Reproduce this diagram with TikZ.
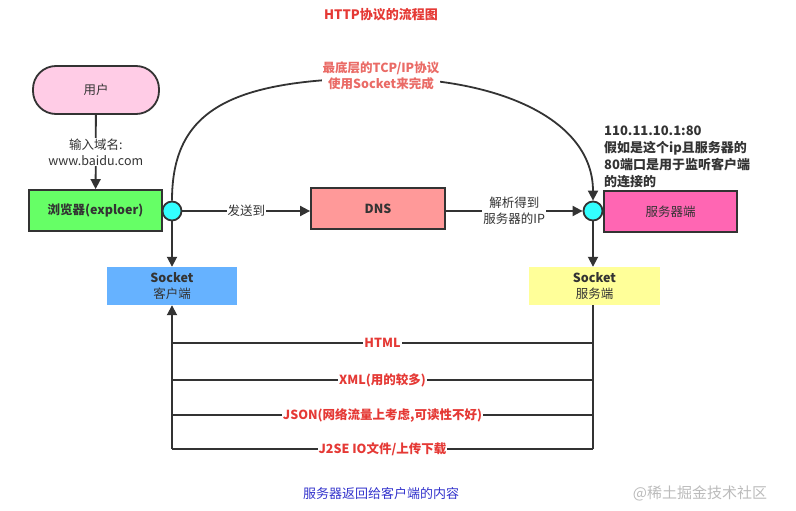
\documentclass[tikz,border=0pt]{standalone}
\usepackage{fontspec}
\setmainfont{Noto Sans CJK SC}
\usetikzlibrary{arrows.meta}
\definecolor{ln}{HTML}{333333}
\definecolor{userpink}{HTML}{FFCCE6}
\definecolor{browsergreen}{HTML}{66FF66}
\definecolor{dnsred}{HTML}{FF9999}
\definecolor{srvpink}{HTML}{FF66B3}
\definecolor{cyanc}{HTML}{33FFFF}
\definecolor{cliblue}{HTML}{66B2FF}
\definecolor{srvyellow}{HTML}{FFFF99}
\definecolor{redtxt}{HTML}{E53935}
\definecolor{pinktxt}{HTML}{EA6B66}
\definecolor{bluetxt}{HTML}{3333CC}
\definecolor{marktxt}{HTML}{BBBBBB}
\begin{document}
\begin{tikzpicture}[x=1pt,y=-1pt,
  every node/.style={font=\fontsize{12.5}{16}\selectfont, text=ln},
  box/.style={draw=ln, line width=1.8pt, inner sep=0pt, align=center},
  flat/.style={inner sep=0pt, align=center},
  dot/.style={circle, draw=ln, line width=1.8pt, fill=cyanc, minimum size=19pt, inner sep=0pt},
  conn/.style={draw=ln, line width=1.8pt},
  arr/.style={conn, -{Triangle[length=10pt,width=10pt]}},
  lbl/.style={fill=white, inner sep=1pt, align=center},
  rlbl/.style={lbl, text=redtxt, font=\fontsize{12.5}{16}\selectfont\bfseries}
]
\useasboundingbox (0,0) rectangle (796,511);

\node[text=redtxt, font=\fontsize{13}{16}\selectfont\bfseries] (title) at (381,15) {HTTP协议的流程图};

\node[box, fill=userpink, rounded corners=23pt, minimum width=126pt, minimum height=48pt] (user) at (96,90) {用户};
\node[box, fill=browsergreen, minimum width=133pt, minimum height=41pt, font=\fontsize{12.5}{16}\selectfont\bfseries] (browser) at (95.5,210.5) {浏览器(exploer)};
\node[box, fill=dnsred, minimum width=134pt, minimum height=41pt, font=\fontsize{12.5}{16}\selectfont\bfseries] (dns) at (378,208.5) {DNS};
\node[box, fill=srvpink, minimum width=133pt, minimum height=41pt] (server) at (670.5,211.5) {服务器端};
\node[dot] (c1) at (172,211) {};
\node[dot] (c2) at (593,211) {};
\node[flat, fill=cliblue, minimum width=130pt, minimum height=38pt] (scli) at (172,286) {\textbf{Socket}\\客户端};
\node[flat, fill=srvyellow, minimum width=131pt, minimum height=38pt] (ssrv) at (594.5,286) {\textbf{Socket}\\服务端};

\node[anchor=north west, inner sep=0pt, align=left, font=\fontsize{13}{17}\selectfont\bfseries] (note) at (604,126) {110.11.10.1:80\\假如是这个ip且服务器的\\80端口是用于监听客户端\\的连接的};

% user -> browser
\draw[arr] (user) -- node[lbl] {输入域名:\\www.baidu.com} (browser);
% browser -> c1
\draw[conn] (browser) -- (c1);
% c1 -> dns
\draw[arr] (c1) -- node[lbl] {发送到} (dns.west |- c1);
% dns -> c2
\draw[arr] (dns.east |- c2) -- node[lbl] {解析得到\\服务器的IP} (c2.west);
% c2 -> server
\draw[conn] (c2) -- (server);
% curve
\draw[arr] (c1.north) .. controls (172,110) and (230,79) .. (381,78)
  .. controls (500,78) and (593,120) .. (c2.north);
\node[lbl, text=pinktxt, font=\fontsize{12.5}{16}\selectfont\bfseries] (tcp) at (381,76) {最底层的TCP/IP协议\\使用Socket来完成};
% down to sockets
\draw[arr] (c1) -- (scli);
\draw[arr] (c2) -- (ssrv.north -| c2);

% return lines
\coordinate (r1) at (593,343);
\coordinate (r2) at (593,380);
\coordinate (r3) at (593,415);
\coordinate (r4) at (593,449);
\coordinate (l1) at (172,343);
\coordinate (l2) at (172,380);
\coordinate (l3) at (172,415);
\coordinate (l4) at (172,449);
\draw[conn] (ssrv.south -| r4) -- (r4);
\draw[conn] (r1) -- node[rlbl] {HTML} (l1);
\draw[conn] (r2) -- node[rlbl] {XML(用的较多)} (l2);
\draw[conn] (r3) -- node[rlbl] {JSON(网络流量上考虑,可读性不好)} (l3);
\draw[conn] (r4) -- node[rlbl] {J2SE IO文件/上传下载} (l4);
\draw[arr] (l4) -- (scli.south);

\node[text=bluetxt, font=\fontsize{13}{16}\selectfont] (bottom) at (381,494) {服务器返回给客户端的内容};
\node[text=marktxt, font=\fontsize{15}{18}\selectfont] (mark) at (700,493) {@稀土掘金技术社区};
\end{tikzpicture}
\end{document}
